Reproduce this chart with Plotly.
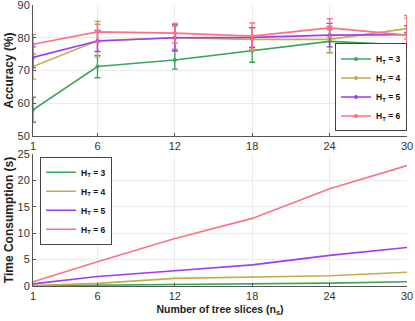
import plotly.graph_objects as go

# 데이터
n_slices = [1, 6, 12, 18, 24, 30]
heights = [3, 4, 5, 6]

acc_mean = {
	3: [58.0, 71.2, 73.2, 76.0, 78.9, 77.8],
	4: [71.2, 79.1, 80.0, 79.5, 79.5, 82.8],
	5: [74.0, 79.0, 80.0, 80.1, 80.8, 80.9],
	6: [78.0, 81.8, 81.4, 80.5, 83.0, 80.8],
}
acc_err = {
	3: [3.8, 3.4, 2.8, 3.5, 3.5, 3.8],
	4: [3.8, 5.0, 3.5, 3.5, 4.0, 3.2],
	5: [3.2, 3.2, 4.0, 3.0, 3.6, 2.8],
	6: [3.0, 3.2, 3.0, 4.0, 2.8, 6.0],
}
time_s = {
	3: [0.05, 0.15, 0.3, 0.4, 0.55, 0.8],
	4: [0.1, 0.5, 1.45, 1.75, 1.95, 2.6],
	5: [0.4, 1.8, 2.9, 4.0, 5.8, 7.3],
	6: [0.8, 4.6, 9.0, 12.8, 18.4, 22.8],
}

COLORS = {3: "#3aa65c", 4: "#bfae4e", 5: "#9d3cf2", 6: "#ff7085"}

fig = go.Figure()

for h in heights:
	fig.add_trace(go.Scatter(
		x=n_slices, y=acc_mean[h],
		mode="lines+markers",
		name=f"<b>H<sub>T</sub> = {h}</b>",
		line=dict(color=COLORS[h], width=1.6),
		marker=dict(size=4, color=COLORS[h]),
		error_y=dict(type="data", array=acc_err[h], color=COLORS[h], thickness=1.4, width=3),
		xaxis="x", yaxis="y", legend="legend",
	))

for h in heights:
	fig.add_trace(go.Scatter(
		x=n_slices, y=time_s[h],
		mode="lines",
		name=f"<b>H<sub>T</sub> = {h}</b>",
		line=dict(color=COLORS[h], width=1.6),
		xaxis="x2", yaxis="y2", legend="legend2",
	))

axis_common = dict(
	showline=True, linecolor="#555", linewidth=1,
	gridcolor="#ebebeb", gridwidth=1, zeroline=False,
	ticks="inside", ticklen=3, tickcolor="#555",
	tickfont=dict(size=11, color="#333"),
	automargin=False, ticklabeloverflow="allow",
)
title_font = dict(size=12, color="#222")
legend_common = dict(
	bordercolor="#444", borderwidth=1, bgcolor="white",
	font=dict(size=8.5, color="#111"), tracegroupgap=0, itemwidth=30,
)

fig.update_layout(
	width=415, height=321,
	font_family="Liberation Sans, Arial, sans-serif",
	plot_bgcolor="white", paper_bgcolor="white",
	margin=dict(l=33, r=8, t=5, b=35),
	xaxis=dict(domain=[0, 1], anchor="y", range=[1, 30], tickvals=n_slices, **axis_common),
	yaxis=dict(domain=[0.534, 1], anchor="x", range=[50, 90], dtick=10,
		title=dict(text="<b>Accuracy (%)</b>", font=title_font, standoff=1),
		**axis_common),
	xaxis2=dict(domain=[0, 1], anchor="y2", range=[1, 30], tickvals=n_slices,
		title=dict(text="<b>Number of tree slices (n<sub>s</sub>)</b>", font=dict(size=10.5, color="#222"), standoff=4),
		**axis_common),
	yaxis2=dict(domain=[0, 0.47], anchor="x2", range=[0, 25], dtick=5,
		title=dict(text="<b>Time Consumption (s)</b>", font=title_font, standoff=1),
		**axis_common),
	legend=dict(x=1.0, y=0.55, xanchor="right", yanchor="bottom", **legend_common),
	legend2=dict(x=0.019, y=0.46, xanchor="left", yanchor="top", **legend_common),
	showlegend=True,
)

# 브라우저 기본 body 여백 제거
fig.write_html(
	"out.html",
	config={"displayModeBar": False},
	post_script="document.body.style.margin='0';",
)
